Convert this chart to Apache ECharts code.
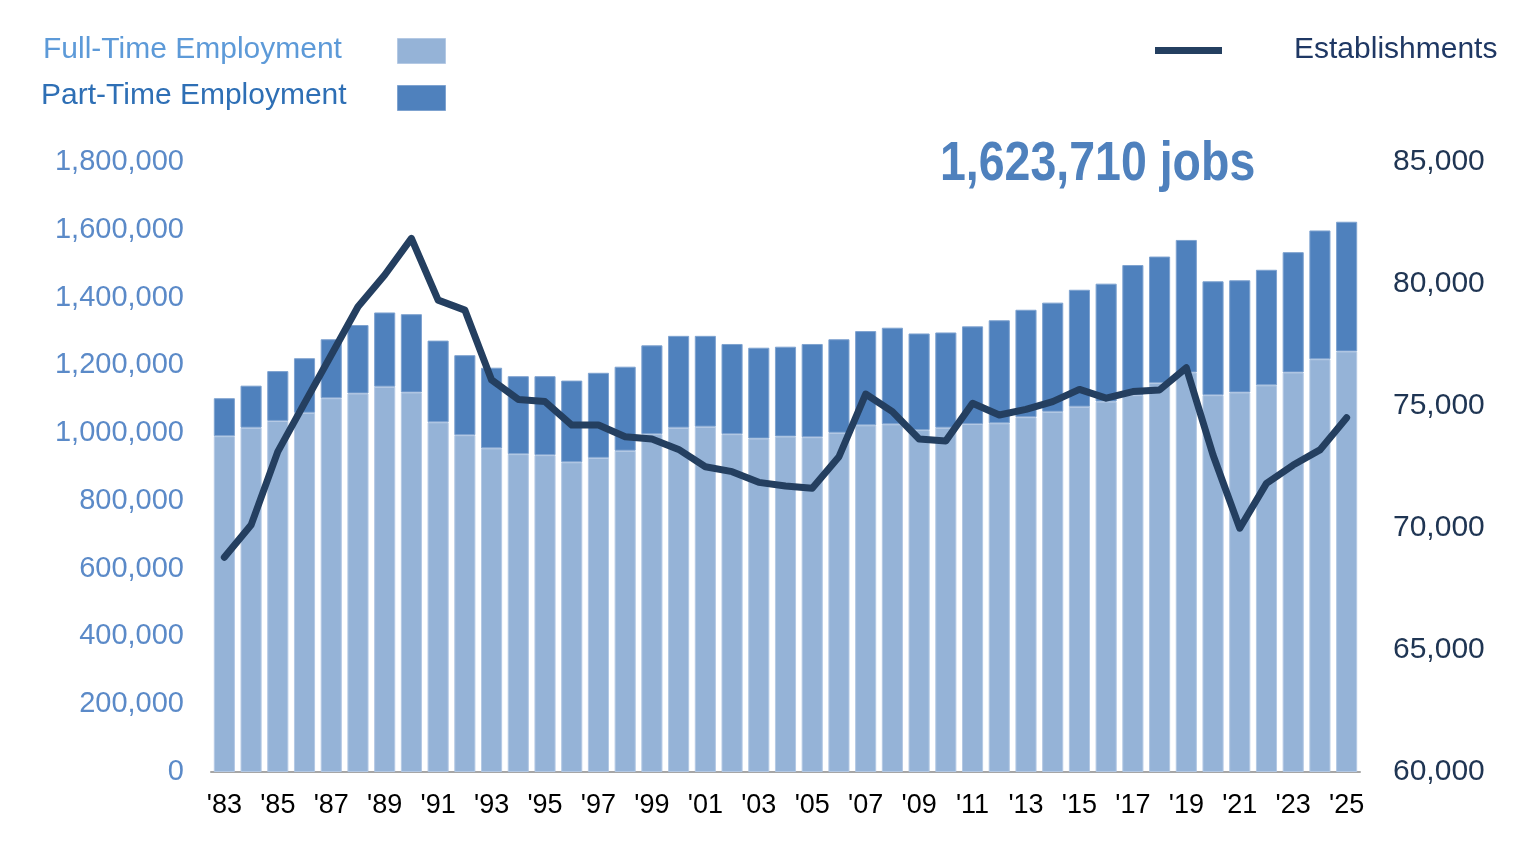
<!DOCTYPE html>
<html>
<head>
<meta charset="utf-8">
<title>Employment and Establishments</title>
<script src="https://cdn.jsdelivr.net/npm/echarts@6/dist/echarts.min.js"></script>
<style>
  html, body { margin: 0; padding: 0; background: #fff; }
  #chart { width: 1525px; height: 857px; }
</style>
</head>
<body>
<div id="chart"></div>
<script>
const years = ["'83", "'84", "'85", "'86", "'87", "'88", "'89", "'90", "'91", "'92",
  "'93", "'94", "'95", "'96", "'97", "'98", "'99", "'00", "'01", "'02",
  "'03", "'04", "'05", "'06", "'07", "'08", "'09", "'10", "'11", "'12",
  "'13", "'14", "'15", "'16", "'17", "'18", "'19", "'20", "'21", "'22",
  "'23", "'24", "'25"]

const fullTime = [991000, 1016000, 1036000, 1060000, 1103000, 1117000, 1137000, 1120000, 1032000, 994000,
  955000, 938000, 935000, 914000, 927000, 948000, 997000, 1016000, 1019000, 997000,
  984000, 990000, 988000, 1001000, 1023000, 1026000, 1009000, 1016000, 1027000, 1029000,
  1047000, 1063000, 1078000, 1093000, 1112000, 1148000, 1179000, 1112000, 1120000, 1141000,
  1179000, 1218000, 1241000]

const partTime = [112000, 124000, 147000, 161000, 174000, 202000, 219000, 231000, 241000, 236000,
  238000, 230000, 233000, 241000, 251000, 248000, 262000, 271000, 268000, 266000,
  268000, 265000, 275000, 276000, 278000, 285000, 285000, 281000, 288000, 304000,
  317000, 322000, 345000, 348000, 384000, 373000, 391000, 336000, 331000, 341000,
  355000, 380000, 382710]

const establishments = [68800, 70120, 73130, 75120, 77090, 79070, 80370, 81870, 79340, 78930,
  76070, 75270, 75180, 74220, 74220, 73740, 73650, 73220, 72510, 72310,
  71870, 71720, 71630, 72920, 75490, 74770, 73650, 73570, 75110, 74630,
  74860, 75180, 75680, 75320, 75590, 75660, 76570, 72990, 69990, 71830,
  72580, 73200, 74520]

const jobsLabel = '1,623,710 jobs'

const font = '"Liberation Sans", Arial, sans-serif'
const chart = echarts.init(document.getElementById('chart'))

const option = {
  animation: false,
  grid: {
    left: 211,
    right: 165,
    top: 162,
    bottom: 85
  },
  xAxis: {
    type: 'category',
    data: years,
    axisLine: { lineStyle: { color: '#a6a6a6', width: 2 } },
    axisTick: { interval: 0, length: 7, lineStyle: { color: '#a6a6a6', width: 2 } },
    axisLabel: {
      interval: 1,
      margin: 20,
      color: '#000',
      fontSize: 27,
      fontFamily: font
    }
  },
  yAxis: [
    {
      type: 'value',
      min: 0,
      max: 1800000,
      interval: 200000,
      splitLine: { show: false },
      axisLabel: {
        margin: 27,
        color: '#5b8ac8',
        fontSize: 29,
        fontFamily: font,
        padding: [4, 0, 0, 0],
        formatter: v => v.toLocaleString('en-US')
      }
    },
    {
      type: 'value',
      min: 60000,
      max: 85000,
      interval: 5000,
      splitLine: { show: false },
      axisLabel: {
        margin: 33,
        color: '#1f3553',
        fontSize: 30,
        fontFamily: font,
        padding: [4, 0, 0, 0],
        formatter: v => v.toLocaleString('en-US')
      }
    }
  ],
  series: [
    {
      name: 'Full-Time Employment',
      type: 'bar',
      stack: 'jobs',
      barCategoryGap: '21%',
      data: fullTime,
      itemStyle: { color: '#95b3d7', borderColor: '#b4c9e4', borderWidth: 1 }
    },
    {
      name: 'Part-Time Employment',
      type: 'bar',
      stack: 'jobs',
      data: partTime,
      itemStyle: { color: '#4f81bd', borderColor: '#7fa3d0', borderWidth: 1 }
    },
    {
      name: 'Establishments',
      type: 'line',
      yAxisIndex: 1,
      data: establishments,
      symbol: 'none',
      lineStyle: { color: '#243f60', width: 7, cap: 'round', join: 'round' },
      z: 5
    }
  ],
  graphic: [
    {
      type: 'text', left: 43, top: 35,
      style: { text: 'Full-Time Employment', fill: '#5d9ad8', font: '30px ' + font }
    },
    {
      type: 'rect', left: 397, top: 38,
      shape: { width: 48, height: 25 },
      style: { fill: '#95b3d7', stroke: '#b4c9e4', lineWidth: 1 }
    },
    {
      type: 'text', left: 41, top: 81,
      style: { text: 'Part-Time Employment', fill: '#2e6fb5', font: '30px ' + font }
    },
    {
      type: 'rect', left: 397, top: 85,
      shape: { width: 48, height: 25 },
      style: { fill: '#4f81bd', stroke: '#7fa3d0', lineWidth: 1 }
    },
    {
      type: 'rect', left: 1155, top: 47,
      shape: { width: 67, height: 7 },
      style: { fill: '#243f60' }
    },
    {
      type: 'text', left: 1294, top: 35,
      style: { text: 'Establishments', fill: '#1f3864', font: '30px ' + font }
    },
    {
      type: 'text', left: 940, top: 137,
      scaleX: 0.83,
      style: {
        text: jobsLabel,
        fill: '#4f81bd',
        font: 'bold 56px ' + font
      }
    }
  ]
}

chart.setOption(option)
</script>
</body>
</html>
